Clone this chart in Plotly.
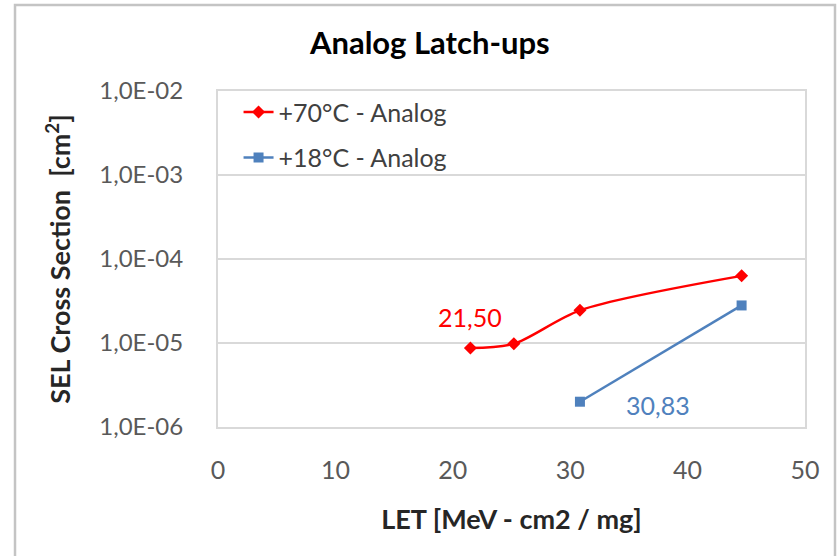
import numpy as np
import plotly.graph_objects as go

# LET values [MeV - cm2 / mg] and SEL cross sections [cm2]
let_70c = [21.50, 25.2, 30.83, 44.6]
sel_70c = [8.7e-6, 9.8e-6, 2.45e-5, 6.3e-5]
let_18c = [30.83, 44.6]
sel_18c = [2.0e-6, 2.8e-5]

series_names = ["+70°C - Analog", "+18°C - Analog"]
y_ticks = [1e-6, 1e-5, 1e-4, 1e-3, 1e-2]
y_tick_text = ["1,0E-06", "1,0E-05", "1,0E-04", "1,0E-03", "1,0E-02"]
x_ticks = [0, 10, 20, 30, 40, 50]

RED = "#FF0000"
BLUE = "#4F81BD"
FONT = "Lato"
GRID = "#D9D9D9"


def comma_label(v):
    return f"{v:.2f}".replace(".", ",")


fig = go.Figure()
fig.add_trace(go.Scatter(
    x=let_70c, y=sel_70c, name=series_names[0], mode="lines+markers",
    line=dict(color=RED, width=2.5, shape="spline", smoothing=0.8),
    marker=dict(symbol="diamond", size=10, color=RED),
    legendgroup="a",
))
fig.add_trace(go.Scatter(
    x=let_18c, y=sel_18c, name=series_names[1], mode="lines+markers",
    line=dict(color=BLUE, width=2.5),
    marker=dict(symbol="square", size=10, color=BLUE),
    legendgroup="b",
))

# value labels on the first point of each series
fig.add_annotation(x=let_70c[0], y=np.log10(sel_70c[0]), text=comma_label(let_70c[0]),
                   showarrow=False, yshift=31, font=dict(family=FONT, size=25, color=RED))
fig.add_annotation(x=let_18c[0], y=np.log10(sel_18c[0]), text=comma_label(let_18c[0]),
                   showarrow=False, xshift=78, yshift=-3, font=dict(family=FONT, size=25, color=BLUE))

# outer chart frame
fig.add_shape(type="path", xref="paper", yref="paper",
              path="M -0.3458 -0.5 L -0.3458 1.256 L 1.0511 1.256 L 1.0511 -0.5",
              line=dict(color="#C4C4C4", width=2.5))

fig.update_layout(
    width=837, height=556,
    margin=dict(l=218, r=32, t=91, b=129),
    paper_bgcolor="white", plot_bgcolor="white",
    font=dict(family=FONT, color="#595959", size=25),
    title=dict(text="<b>Analog Latch-ups</b>", x=0.5135, xanchor="center",
               y=0.923, yanchor="middle",
               font=dict(family=FONT, size=31, color="#000000")),
    showlegend=True,
    legend=dict(x=0.035, y=1.005, xanchor="left", yanchor="top",
                bgcolor="rgba(0,0,0,0)", borderwidth=0,
                traceorder="grouped", tracegroupgap=10,
                font=dict(family=FONT, size=25, color="#404040")),
)
fig.update_xaxes(
    range=[0, 50], tickvals=x_ticks, showgrid=False, zeroline=False,
    showline=True, mirror=True, linecolor=GRID, linewidth=2,
    ticks="", ticklabelstandoff=20,
    tickfont=dict(family=FONT, size=25, color="#595959"),
    title=dict(text="<b>LET [MeV - cm2 / mg]</b>", standoff=27,
               font=dict(family=FONT, size=27, color="#262626")),
)
fig.update_yaxes(
    type="log", range=[-6, -2], tickvals=y_ticks, ticktext=y_tick_text,
    showgrid=True, gridcolor=GRID, gridwidth=2, zeroline=False,
    showline=True, mirror=True, linecolor=GRID, linewidth=2,
    ticks="", ticklabelstandoff=28,
    tickfont=dict(family=FONT, size=24, color="#595959"),
    title=dict(text="<b>SEL Cross Section  [cm<sup>2</sup>]</b>", standoff=21,
               font=dict(family=FONT, size=27, color="#262626")),
)

fig.write_html("out.html")
